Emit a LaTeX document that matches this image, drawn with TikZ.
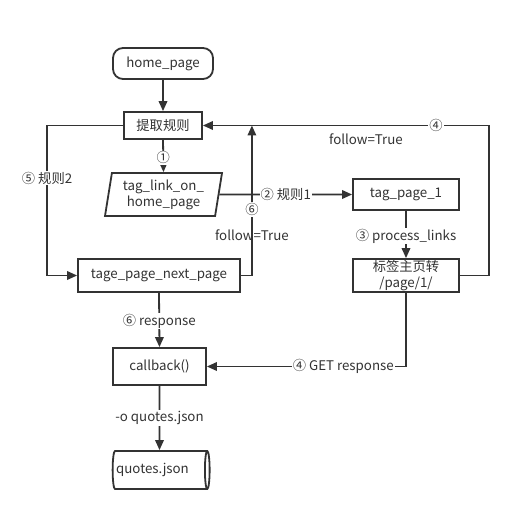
\documentclass[tikz,border=0pt]{standalone}
\usepackage{fontspec}
\setmainfont{Noto Sans CJK SC}
\usetikzlibrary{arrows.meta,shapes.geometric}
\definecolor{ink}{HTML}{333333}

\begin{document}
\begin{tikzpicture}[x=1pt,y=-1pt, line width=1.8pt, color=ink,
    font=\fontsize{13.3}{16}\selectfont,
    box/.style={draw, rectangle, inner sep=0pt, align=center},
    arr/.style={-{Triangle[length=10pt,width=8.5pt]}},
    lbl/.style={fill=white, inner sep=1pt}]
    % Background
    \fill[white] (0,0) rectangle (520,521);
    \useasboundingbox (0,0) rectangle (520,521);

    % Left column
    \node[box, rounded corners=10pt, minimum width=100pt, minimum height=31pt] (home) at (163,63.5) {home\_page};
    \node[box, minimum width=78pt, minimum height=27pt] (rule) at (163,125.5) {提取规则};
    \node[draw, trapezium, trapezium left angle=77, trapezium right angle=103,
          trapezium stretches body, minimum width=117pt, minimum height=43pt,
          inner sep=0pt, align=center] (link) at (163.5,194.5) {tag\_link\_on\_\\home\_page};
    \node[box, minimum width=162pt, minimum height=33pt] (next) at (159,275.5) {tage\_page\_next\_page};
    \node[box, minimum width=93pt, minimum height=37pt] (cb) at (159.5,366.5) {callback()};
    \node[draw, cylinder, aspect=0.35, minimum height=97pt, minimum width=38pt,
          inner sep=0pt] (quotes) at (159.5,470) {\hspace*{-14pt}quotes.json};

    % Right column
    \node[box, minimum width=106pt, minimum height=31pt] (tag1) at (406,194.5) {tag\_page\_1};
    \node[box, minimum width=106pt, minimum height=33pt] (turn) at (406,275.5) {标签主页转\\/page/1/};

    % Straight arrows
    \draw[arr] (home) -- (rule);
    \foreach \a/\b/\t/\p in {rule/link/①/0.56, tag1/turn/③ process\_links/0.53,
                             next/cb/⑥ response/0.52, cb/quotes/-o quotes.json/0.5} {
        \draw[arr] (\a.south) -- node[lbl, pos=\p] {\t} (\b.north);
    }
    \draw[arr] (link.east) -- node[lbl] {② 规则1} (tag1.west);

    % Loops back
    \draw[arr] (rule.west) -- ++(-76,0) coordinate (c5)
        -- node[lbl, pos=0.35] {⑤ 规则2} (c5 |- next.west) -- (next.west);
    \draw[arr] (next.east) -- ++(11,0) coordinate (c6)
        -- node[lbl, pos=0.44] {⑥} node[pos=0.27] {follow=True} (c6 |- rule.east);
    \draw[arr] (turn.east) -- ++(29,0) coordinate (c4) -- (c4 |- rule.east)
        -- node[lbl, pos=0.185] {④} node[pos=0.43, yshift=-14pt] {follow=True} (rule.east);
    \draw[arr] (turn.south) -- (turn.south |- cb.east)
        -- node[lbl, pos=0.315] {④ GET response} (cb.east);
\end{tikzpicture}
\end{document}
